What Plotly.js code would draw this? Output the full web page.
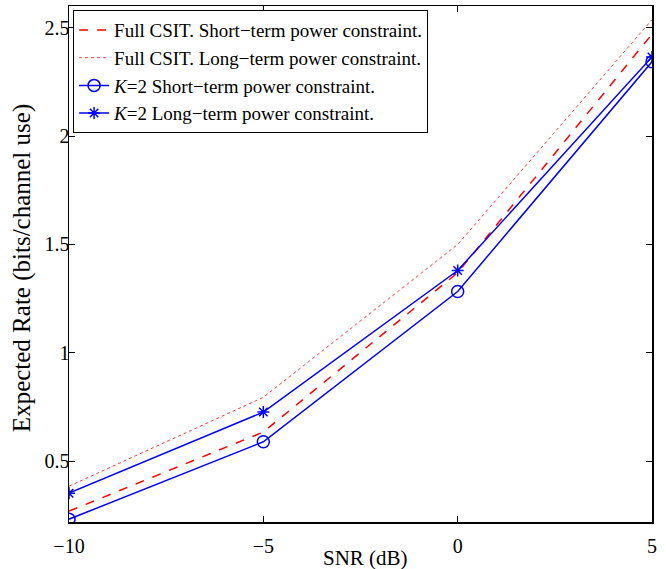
<!DOCTYPE html>
<html>
<head>
<meta charset="utf-8">
<script src="https://cdn.plot.ly/plotly-3.0.1.min.js"></script>
<style>html,body{margin:0;padding:0;background:#fff;}</style>
</head>
<body>
<div id="chart" style="width:666px;height:569px;"></div>
<script>
var snr = [-10, -5, 0, 5];
var fullShort = [0.27, 0.635, 1.37, 2.47];
var fullLong = [0.385, 0.795, 1.50, 2.537];
var k2Short = [0.233, 0.59, 1.283, 2.343];
var k2Long = [0.353, 0.727, 1.38, 2.365];
var xTicks = [-10, -5, 0, 5];
var xTickText = ['\u221210', '\u22125', '0', '5'];
var yTicks = [0.5, 1, 1.5, 2, 2.5];
var yTickText = ['0.5', '1', '1.5', '2', '2.5'];

var traces = [
  {x: snr, y: fullShort, mode: 'lines', name: 'Full CSIT. Short\u2212term power constraint.',
   line: {color: '#ff0000', dash: 'dash', width: 1.5}},
  {x: snr, y: fullLong, mode: 'lines', name: 'Full CSIT. Long\u2212term power constraint.',
   line: {color: '#ff0000', dash: 'dot', width: 0.8}},
  {x: snr, y: k2Short, mode: 'lines+markers', name: '<i>K</i>=2 Short\u2212term power constraint.',
   line: {color: '#0000ff', width: 1.5},
   marker: {symbol: 'circle-open', size: 12, color: '#0000ff', line: {width: 1.5, color: '#0000ff'}}},
  {x: snr, y: k2Long, mode: 'lines+markers', name: '<i>K</i>=2 Long\u2212term power constraint.',
   line: {color: '#0000ff', width: 1.5},
   marker: {symbol: 'asterisk-open', size: 10, color: '#0000ff', line: {width: 1.5, color: '#0000ff'}}}
];

var layout = {
  width: 666, height: 569,
  margin: {l: 69, r: 14, t: 6, b: 47},
  paper_bgcolor: '#fff', plot_bgcolor: '#fff',
  font: {family: 'Liberation Serif, Times New Roman, serif', size: 20, color: '#000'},
  showlegend: true,
  legend: {x: 0.007, y: 0.992, xanchor: 'left', yanchor: 'top',
           bgcolor: '#fff', bordercolor: '#000', borderwidth: 1,
           font: {size: 19}, tracegroupgap: 0, itemwidth: 30},
  xaxis: {range: [-10, 5], tickvals: xTicks, ticktext: xTickText,
          ticks: 'inside', ticklen: 6, tickwidth: 1, tickcolor: '#000',
          showline: true, linecolor: '#000', linewidth: 1.5, mirror: 'ticks',
          showgrid: false, zeroline: false, tickfont: {size: 20}, ticklabelstandoff: 5},
  yaxis: {range: [0.22, 2.6], tickvals: yTicks, ticktext: yTickText,
          ticks: 'inside', ticklen: 6, tickwidth: 1, tickcolor: '#000',
          showline: true, linecolor: '#000', linewidth: 1.5, mirror: 'ticks',
          showgrid: false, zeroline: false, tickfont: {size: 20}, ticklabelstandoff: -6},
  annotations: [
    {text: 'SNR (dB)', xref: 'paper', yref: 'paper', x: 0.509, y: -0.0698,
     xanchor: 'center', yanchor: 'middle', showarrow: false, font: {size: 21}},
    {text: 'Expected Rate (bits/channel use)', xref: 'paper', yref: 'paper', x: -0.0806, y: 0.492,
     xanchor: 'center', yanchor: 'middle', showarrow: false, textangle: -90, font: {size: 25}}
  ]
};

Plotly.newPlot('chart', traces, layout, {displayModeBar: false, staticPlot: true});
</script>
</body>
</html>
